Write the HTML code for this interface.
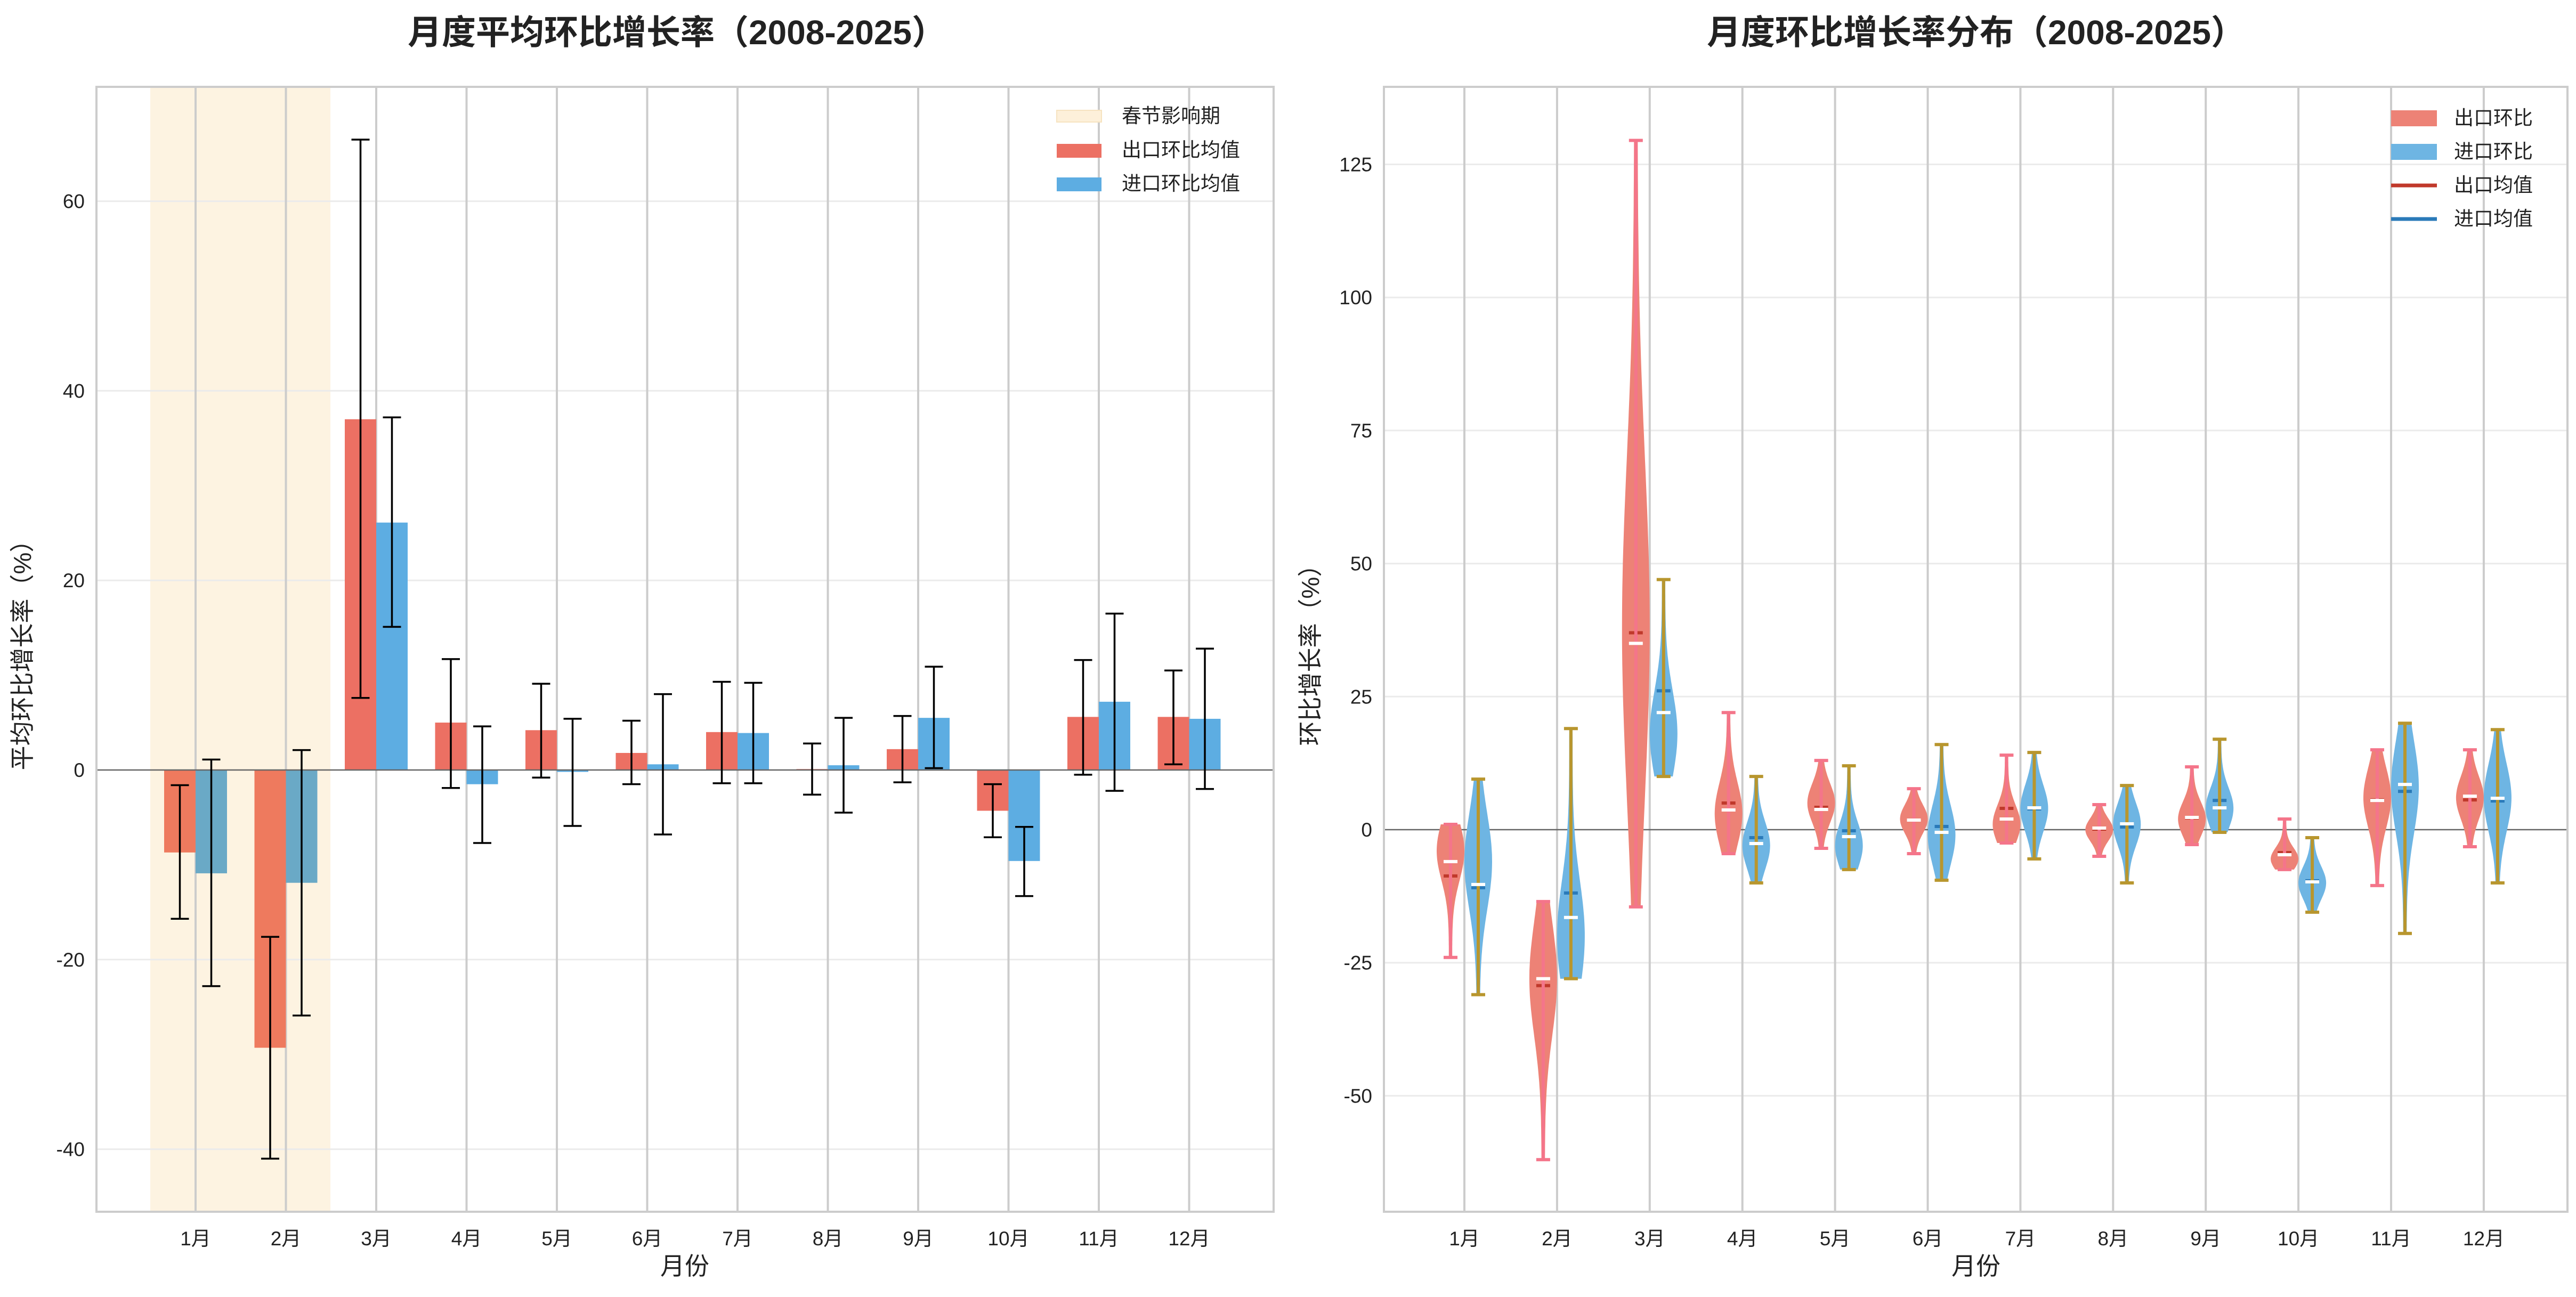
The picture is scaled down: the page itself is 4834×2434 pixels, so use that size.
<!DOCTYPE html><html><head><meta charset="utf-8"><style>body{margin:0;background:#fff}svg{display:block}text{font-family:"Liberation Sans","Noto Sans CJK SC",sans-serif;fill:#222}</style></head><body>
<svg id="s" width="4834" height="2434" xmlns="http://www.w3.org/2000/svg"></svg>
<script>
var s=document.getElementById('s'),h='';
function L(x1,y1,x2,y2,c,w,extra){h+=`<line x1="${x1}" y1="${y1}" x2="${x2}" y2="${y2}" stroke="${c}" stroke-width="${w}" ${extra||''}/>`;}
function R(x,y,w,hh,c,extra){if(hh<0){y+=hh;hh=-hh;}h+=`<rect x="${x}" y="${y}" width="${w}" height="${hh}" fill="${c}" ${extra||''}/>`;}
function T(x,y,t,sz,a,extra){h+=`<text x="${x}" y="${y}" font-size="${sz}" text-anchor="${a||'middle'}" ${extra||''}>${t}</text>`;}
// ---------- LEFT ----------
var ax=181,ax2=2390,ay=163,ay2=2274,y0=1445,k=17.79;
function Y(v){return y0-v*k;}
var cx=m=>367+m*169.5;
R(282,ay,338,ay2-ay,'#fdf3e1');
[-40,-20,20,40,60].forEach(v=>{L(ax,Y(v),ax2,Y(v),'#ebebeb',3);T(ax-22,Y(v)+13,v,37,'end');});
T(ax-22,Y(0)+13,0,37,'end');
for(var m=0;m<12;m++){L(cx(m),ay,cx(m),ay2,'#cccccc',4);T(cx(m),ay2+63,(m+1)+'月',37);}
var em=[-8.7,-29.3,37,5,4.2,1.8,4,0.1,2.2,-4.3,5.6,5.6],
el=[[-15.7,-1.6],[-41,-17.6],[7.6,66.5],[-1.9,11.7],[-0.8,9.1],[-1.5,5.2],[-1.4,9.3],[-2.6,2.8],[-1.3,5.7],[-7.1,-1.5],[-0.5,11.6],[0.6,10.5]],
im=[-10.9,-11.9,26.1,-1.5,-0.2,0.6,3.9,0.5,5.5,-9.6,7.2,5.4],
il=[[-22.8,1.1],[-25.9,2.1],[15.1,37.2],[-7.7,4.6],[-5.9,5.4],[-6.8,8],[-1.4,9.2],[-4.5,5.5],[0.2,10.9],[-13.3,-6],[-2.2,16.5],[-2,12.8]];
for(m=0;m<12;m++){
 R(cx(m)-59,Y(0),59,Y(em[m])-Y(0),m<2?'#ee7a5e':'#ec7063');
 R(cx(m),Y(0),59,Y(im[m])-Y(0),m<2?'#6aa9c6':'#5dade2');
}
L(ax,Y(0),ax2,Y(0),'#666',2.5);
for(m=0;m<12;m++){[[cx(m)-29.5,el[m]],[cx(m)+29.5,il[m]]].forEach(p=>{var x=p[0],a=Y(p[1][0]),b=Y(p[1][1]);L(x,a,x,b,'#000',3.5);L(x-17,a,x+17,a,'#000',3.5);L(x-17,b,x+17,b,'#000',3.5);});}
R(ax,ay,ax2-ax,ay2-ay,'none','stroke="#cccccc" stroke-width="4"');
T(1270,83,'月度平均环比增长率（2008-2025）',64,'middle','font-weight="bold"');
T(1285,2392,'月份',46);
T(58,1218,'平均环比增长率（%）',46,'middle','transform="rotate(-90 58 1218)"');
// legend
R(1983,207,84,22,'#fdf0da','stroke="#f6e3c0" stroke-width="2"');T(2105,230,'春节影响期',37,'start');
R(1983,270,84,26,'#ec7063');T(2105,294,'出口环比均值',37,'start');
R(1983,333,84,26,'#5dade2');T(2105,357,'进口环比均值',37,'start');
// ---------- RIGHT ----------
var bx=2597,bx2=4818,by0=1557,bk=9.988;
function Y2(v){return by0-v*bk;}
var c2=m=>2748+m*173.9;
[-50,-25,25,50,75,100,125].forEach(v=>{L(bx,Y2(v),bx2,Y2(v),'#ebebeb',3);T(bx-22,Y2(v)+13,v,37,'end');});
T(bx-22,Y2(0)+13,0,37,'end');
for(m=0;m<12;m++){L(c2(m),ay,c2(m),ay2,'#cccccc',4);T(c2(m),ay2+63,(m+1)+'月',37);}
L(bx,Y2(0),bx2,Y2(0),'#666',2.5);
var E=[[-24,1,-6,-8.7,-4],[-62,-13.5,-28,-29.3,-28],[-14.5,129.5,35,37,38],[-4.5,22,3.7,5,3],[-3.5,13,3.8,4.2,5],[-4.5,7.7,1.8,1.8,2],[-2.5,14,2,4,1],[-5,4.7,0.3,0.1,0],[-2.8,11.8,2.3,2.2,2],[-7.5,2,-4.7,-4.3,-5.5],[-10.5,15,5.5,5.6,6],[-3.2,15,6.3,5.6,6]];
var I=[[-31,9.5,-10.3,-10.9,-6],[-28,19,-16.5,-11.9,-20],[10,47,22,26.1,18],[-10,10,-2.6,-1.5,-3],[-7.5,12,-1.3,-0.2,-3],[-9.5,16,-0.5,0.6,-1],[-5.5,14.5,4.1,3.9,4],[-10,8.3,1.1,0.5,1],[-0.5,17,4.1,5.5,4],[-15.5,-1.5,-9.8,-9.6,-10],[-19.5,20,8.5,7.2,8],[-10,18.8,5.9,5.4,6]];
function violin(x,d,fill,stem,mc){
 var mn=d[0],mx=d[1],pk=d[4],sd=(mx-mn)/3.2,W=26,N=60,L1=[],R1=[];
 for(var i=0;i<=N;i++){var v=mn+(mx-mn)*i/N,w=W*(0.12+0.88*Math.exp(-Math.pow((v-pk)/sd,2)));var yy=Y2(v);L1.push((x-w).toFixed(1)+','+yy.toFixed(1));R1.unshift((x+w).toFixed(1)+','+yy.toFixed(1));}
 h+=`<polygon points="${L1.concat(R1).join(' ')}" fill="${fill}"/>`;
 L(x,Y2(mn),x,Y2(mx),stem,6);L(x-13,Y2(mn),x+13,Y2(mn),stem,6);L(x-13,Y2(mx),x+13,Y2(mx),stem,6);
 L(x-13,Y2(d[3]),x+13,Y2(d[3]),mc,6,'stroke-dasharray="10 6"');
 L(x-13,Y2(d[2]),x+13,Y2(d[2]),'#fff',6);
}
for(m=0;m<12;m++){violin(c2(m)-26,E[m],'#ed8276','#f4758a','#c0392b');violin(c2(m)+26,I[m],'#6eb5e3','#b8962e','#2a7ab9');}
R(bx,ay,bx2-bx,ay2-ay,'none','stroke="#cccccc" stroke-width="4"');
T(3708,83,'月度环比增长率分布（2008-2025）',64,'middle','font-weight="bold"');
T(3708,2392,'月份',46);
T(2475,1218,'环比增长率（%）',46,'middle','transform="rotate(-90 2475 1218)"');
R(4487,207,86,30,'#ed8276');T(4605,234,'出口环比',37,'start');
R(4487,270,86,30,'#6eb5e3');T(4605,297,'进口环比',37,'start');
L(4487,348,4573,348,'#c0392b',7);T(4605,360,'出口均值',37,'start');
L(4487,411,4573,411,'#2a7ab9',7);T(4605,423,'进口均值',37,'start');
s.innerHTML=h;
</script></body></html>
